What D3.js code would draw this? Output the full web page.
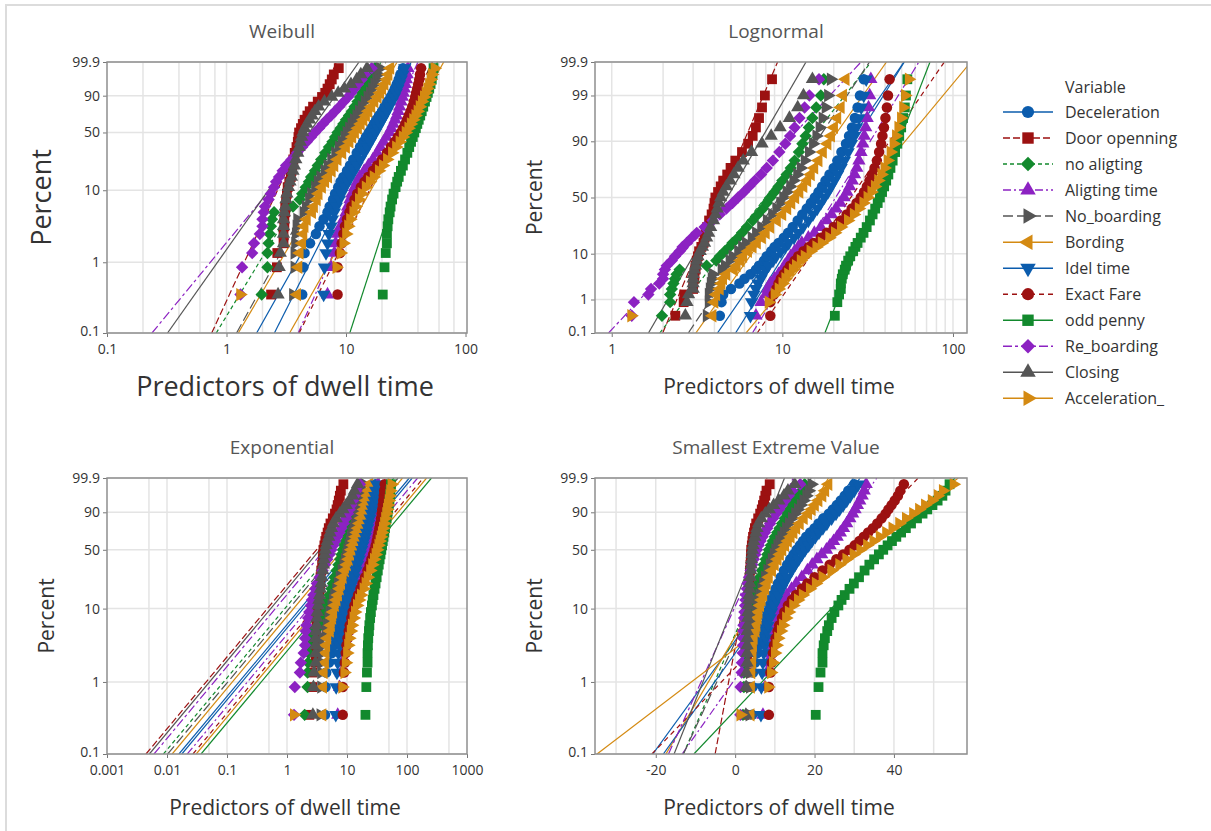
<!DOCTYPE html>
<html>
<head>
<meta charset="utf-8">
<script src="https://d3js.org/d3.v7.min.js"></script>
<style>
body { margin: 0; background: #fff; }
svg { font-family: "Open Sans", "Noto Sans", sans-serif; }
</style>
</head>
<body>
<div id="chart"></div>
<script>
// plotting positions (percent) of the points, shared by every variable
var percents = [0.35, 0.85, 1.35, 1.85, 2.5, 3.2, 4, 5, 6, 7.5, 9, 11, 13, 15, 18, 21, 25, 30, 35, 40,
  45, 50, 55, 60, 65, 70, 75, 80, 85, 89, 92, 94.5, 96.5, 98, 99, 99.65];

// variable names, in legend order
var variables = ["Deceleration", "Door openning", "no aligting", "Aligting time", "No_boarding", "Bording",
  "Idel time", "Exact Fare", "odd penny", "Re_boarding", "Closing", "Acceleration_"];

// sample quantiles (seconds) at the percents above
var deceleration = [4.3, 4.4, 4.5, 5.0, 5.6, 6.0, 6.5, 7.0, 7.3, 7.8, 8.1, 8.6, 9.0, 9.5, 10.2, 10.8, 11.5, 12.3, 13.1, 13.9,
  14.7, 15.5, 16.3, 17.1, 17.9, 18.9, 20.0, 21.0, 22.2, 23.6, 24.6, 25.6, 26.6, 27.6, 28.5, 30.0];
var doorOpenning = [2.36, 2.64, 2.66, 3.0, 3.0, 3.05, 3.05, 3.1, 3.1, 3.15, 3.2, 3.25, 3.35, 3.45, 3.5, 3.55, 3.62, 3.72, 3.85, 3.95,
  4.0, 4.05, 4.2, 4.35, 4.5, 4.75, 4.97, 5.3, 5.8, 6.3, 6.7, 7.0, 7.3, 7.6, 7.9, 8.7];
var noAligting = [1.97, 2.2, 2.2, 2.25, 2.3, 2.35, 2.4, 2.5, 3.6, 4.1, 4.3, 4.6, 4.9, 5.1, 5.5, 5.8, 6.2, 6.7, 7.2, 7.7,
  8.1, 8.5, 9.0, 9.5, 10.0, 10.6, 11.2, 11.8, 12.5, 13.1, 13.7, 14.3, 15.0, 15.8, 16.8, 17.5];
var aligtingTime = [7.0, 7.5, 8.0, 8.2, 8.5, 9.0, 9.5, 10.0, 10.3, 10.8, 11.2, 11.8, 12.4, 13.0, 14.2, 15.4, 16.8, 18.2, 19.4, 20.6,
  21.8, 23.0, 23.9, 24.8, 25.7, 26.5, 27.3, 28.1, 28.9, 29.6, 30.2, 30.8, 31.4, 32.0, 32.5, 33.0];
var noBoarding = [3.6, 3.7, 3.7, 3.75, 3.8, 3.85, 3.9, 4.4, 4.6, 4.9, 5.1, 5.5, 5.8, 6.1, 6.6, 7.0, 7.5, 8.1, 8.7, 9.2,
  9.7, 10.1, 10.6, 11.1, 11.6, 12.2, 12.8, 13.5, 14.3, 15.1, 15.8, 16.5, 17.2, 17.9, 18.5, 19.2];
var bording = [3.9, 4.0, 4.1, 4.3, 4.4, 4.5, 4.7, 5.2, 5.4, 5.7, 5.9, 6.3, 6.7, 7.1, 7.6, 8.0, 8.5, 9.3, 10.0, 10.7,
  11.3, 11.9, 12.6, 13.3, 14.0, 14.7, 15.4, 16.3, 17.3, 18.4, 19.3, 20.1, 21.0, 22.0, 22.7, 23.5];
var idelTime = [6.5, 6.6, 6.8, 7.0, 7.2, 7.5, 7.7, 8.0, 8.3, 8.8, 9.2, 9.8, 10.4, 10.9, 11.7, 12.4, 13.2, 14.2, 15.1, 16.0,
  16.8, 17.6, 18.5, 19.3, 20.2, 21.1, 22.1, 23.1, 24.3, 25.4, 26.3, 27.2, 28.1, 29.0, 30.0, 31.0];
var exactFare = [8.5, 8.5, 8.9, 9.2, 9.5, 9.8, 10.2, 10.7, 11.1, 11.8, 12.4, 13.3, 14.3, 15.3, 16.8, 18.2, 20.0, 22.0, 23.8, 25.5,
  27.2, 28.8, 30.1, 31.3, 32.4, 33.5, 34.7, 35.8, 36.9, 37.9, 38.6, 39.4, 40.2, 41.0, 41.6, 42.5];
var oddPenny = [20.3, 21.0, 21.5, 22.0, 22.0, 22.3, 22.6, 23.2, 23.6, 24.3, 25.0, 26.0, 26.8, 27.6, 28.8, 29.9, 31.2, 32.6, 33.8, 35.0,
  36.2, 37.3, 38.4, 39.5, 40.6, 41.8, 43.0, 44.3, 45.8, 47.2, 48.4, 49.7, 51.0, 52.2, 53.0, 54.0];
var reBoarding = [1.31, 1.35, 1.64, 1.7, 1.9, 2.0, 2.0, 2.05, 2.1, 2.25, 2.35, 2.5, 2.6, 2.75, 2.95, 3.15, 3.5, 3.9, 4.3, 4.7,
  5.1, 5.5, 5.95, 6.4, 6.9, 7.5, 8.1, 8.8, 9.6, 10.4, 11.1, 11.8, 12.6, 13.5, 14.4, 16.4];
var closing = [2.7, 2.76, 2.82, 3.0, 3.0, 3.0, 3.0, 3.05, 3.1, 3.15, 3.2, 3.3, 3.4, 3.5, 3.6, 3.7, 3.8, 3.95, 4.05, 4.15,
  4.25, 4.35, 4.5, 4.7, 4.95, 5.2, 5.5, 5.9, 6.6, 7.6, 8.6, 9.7, 11.0, 12.3, 13.3, 15.0];
var acceleration = [1.3, 8.3, 9.0, 9.5, 10.0, 10.4, 10.8, 11.5, 12.0, 12.8, 13.5, 14.6, 15.8, 17.0, 18.8, 20.3, 22.0, 24.2, 26.2, 28.0,
  29.8, 31.5, 33.2, 34.8, 36.4, 38.0, 39.6, 41.3, 43.0, 44.8, 46.3, 47.8, 49.5, 51.0, 52.3, 55.0];

var values = [deceleration, doorOpenning, noAligting, aligtingTime, noBoarding, bording,
  idelTime, exactFare, oddPenny, reBoarding, closing, acceleration];

// percent ticks on the y axes
var pTicks = [0.1, 1, 10, 50, 90, 99.9];
var pTicksNormal = [0.1, 1, 10, 50, 90, 99, 99.9];

// styles of each variable (Minitab defaults)
var blue = "#0b5cad", red = "#9c1111", green = "#12892d", purple = "#8c22c2", grey = "#555555", orange = "#d48a12";
var colors = [blue, red, green, purple, grey, orange, blue, red, green, purple, grey, orange];
var shapes = ["circle", "square", "diamond", "up", "right", "left", "down", "circle", "square", "diamond", "up", "right"];
var dashes = [null, "7,3", "4,3", "8,3,2,3", "10,4", null, null, "5,4", null, "9,3,3,3", null, null];

var svg = d3.select("#chart").append("svg")
  .attr("width", 1211)
  .attr("height", 831);

svg.append("rect").attr("width", 1211).attr("height", 831).attr("fill", "#fff");
// outer frame of the graph window
svg.append("path").attr("d", "M6,831V5H1211").attr("fill", "none")
  .attr("stroke", "#dcdcdc").attr("stroke-width", 2);

// inverse normal cdf (Acklam)
function qnorm(p) {
  var a = [-39.69683028665376, 220.9460984245205, -275.9285104469687, 138.3577518672690, -30.66479806614716, 2.506628277459239];
  var b = [-54.47609879822406, 161.5858368580409, -155.6989798598866, 66.80131188771972, -13.28068155288572];
  var c = [-0.007784894002430293, -0.3223964580411365, -2.400758277161838, -2.549732539343734, 4.374664141464968, 2.938163982698783];
  var d = [0.007784695709041462, 0.3224671290700398, 2.445134137142996, 3.754408361988120];
  var q, r;
  if (p < 0.02425) {
    q = Math.sqrt(-2 * Math.log(p));
    return (((((c[0]*q+c[1])*q+c[2])*q+c[3])*q+c[4])*q+c[5]) / ((((d[0]*q+d[1])*q+d[2])*q+d[3])*q+1);
  }
  if (p > 1 - 0.02425) {
    q = Math.sqrt(-2 * Math.log(1 - p));
    return -(((((c[0]*q+c[1])*q+c[2])*q+c[3])*q+c[4])*q+c[5]) / ((((d[0]*q+d[1])*q+d[2])*q+d[3])*q+1);
  }
  q = p - 0.5; r = q * q;
  return (((((a[0]*r+a[1])*r+a[2])*r+a[3])*r+a[4])*r+a[5])*q / (((((b[0]*r+b[1])*r+b[2])*r+b[3])*r+b[4])*r+1);
}
// ln(-ln(1-p)) : the weibull / exponential / extreme value probability scale
function gumbel(p) { return Math.log(-Math.log(1 - p)); }

// probability mass each plotted point stands for
var w = percents.map(function(p, i) {
  var lo = i === 0 ? 0 : (percents[i - 1] + p) / 2;
  var hi = i === percents.length - 1 ? 100 : (percents[i + 1] + p) / 2;
  return hi - lo;
});
var W = d3.sum(w);

// maximum likelihood fits, each returns x as a function of the transformed percent
function fitWeibull(xs) {
  var lx = xs.map(Math.log), lmax = d3.max(lx);
  var mlx = d3.sum(lx, function(v, i) { return v * w[i]; }) / W;
  function g(b) {
    var s = 0, s1 = 0;
    lx.forEach(function(v, i) { var e = w[i] * Math.exp(b * (v - lmax)); s += e; s1 += e * v; });
    return s1 / s - 1 / b - mlx;
  }
  var lo = 0.05, hi = 60, b;
  for (var k = 0; k < 80; k++) { b = (lo + hi) / 2; if (g(b) > 0) hi = b; else lo = b; }
  var s = d3.sum(lx, function(v, i) { return w[i] * Math.exp(b * (v - lmax)); }) / W;
  var alpha = Math.exp(lmax + Math.log(s) / b);
  return function(t) { return alpha * Math.exp(t / b); };
}
function fitLognormal(xs) {
  var lx = xs.map(Math.log);
  var mu = d3.sum(lx, function(v, i) { return v * w[i]; }) / W;
  var sd = Math.sqrt(d3.sum(lx, function(v, i) { return w[i] * (v - mu) * (v - mu); }) / W);
  return function(z) { return Math.exp(mu + sd * z); };
}
function fitExponential(xs) {
  var theta = d3.sum(xs, function(v, i) { return v * w[i]; }) / W;
  return function(t) { return theta * Math.exp(t); };
}
function fitSEV(xs) {
  var m = d3.sum(xs, function(v, i) { return v * w[i]; }) / W, xmax = d3.max(xs);
  function h(s) {
    var a = 0, b = 0;
    xs.forEach(function(v, i) { var e = w[i] * Math.exp((v - xmax) / s); a += e; b += e * v; });
    return b / a - m - s;
  }
  var lo = 0.01, hi = 200, s;
  for (var k = 0; k < 80; k++) { s = (lo + hi) / 2; if (h(s) > 0) lo = s; else hi = s; }
  var a = d3.sum(xs, function(v, i) { return w[i] * Math.exp((v - xmax) / s); }) / W;
  var mu = xmax + s * Math.log(a);
  return function(t) { return mu + s * t; };
}

// marker paths
function markerPath(shape, size) {
  if (shape === "circle") return d3.symbol(d3.symbolCircle, size * 0.9)();
  if (shape === "square") return d3.symbol(d3.symbolSquare, size)();
  if (shape === "diamond") return d3.symbol(d3.symbolSquare, size * 0.8)();
  return d3.symbol(d3.symbolTriangle, size * 0.8)();
}
function markerRotate(shape) {
  return { diamond: 45, right: 90, down: 180, left: 270 }[shape] || 0;
}

var panels = [
  { title: "Weibull", left: 107, right: 467, top: 62, bottom: 333, xType: "log", xDomain: [0.1, 102.9],
    xTicks: [0.1, 1, 10, 100], xGrid: [0.2, 0.4, 0.6, 0.8, 1, 2, 4, 6, 8, 10, 20, 40, 60, 80],
    yf: gumbel, ticks: pTicks, fit: fitWeibull, labelSize: 27, ylabelX: 42 },
  { title: "Lognormal", left: 595, right: 967, top: 62, bottom: 333, xType: "log", xDomain: [0.798, 120.8],
    xTicks: [1, 10, 100], xGrid: [1, 2, 3, 4, 5, 6, 7, 8, 9, 10, 20, 30, 40, 50, 60, 70, 80, 90, 100],
    yf: qnorm, ticks: pTicksNormal, fit: fitLognormal, labelSize: 21, ylabelX: 535 },
  { title: "Exponential", left: 107, right: 467, top: 478, bottom: 754, xType: "log", xDomain: [0.001, 1000],
    xTicks: [0.001, 0.01, 0.1, 1, 10, 100, 1000], xGrid: [0.005, 0.01, 0.05, 0.1, 0.5, 1, 5, 10, 50, 100, 500],
    yf: gumbel, ticks: pTicks, fit: fitExponential, labelSize: 21, ylabelX: 47 },
  { title: "Smallest Extreme Value", left: 595, right: 967, top: 478, bottom: 754, xType: "linear", xDomain: [-35.3, 58.4],
    xTicks: [-20, 0, 20, 40], xGrid: [-30, -20, -10, 0, 10, 20, 30, 40, 50],
    yf: gumbel, ticks: pTicks, fit: fitSEV, labelSize: 21, ylabelX: 535 }
];

panels.forEach(function(cfg, pi) {
  var x = (cfg.xType === "log" ? d3.scaleLog() : d3.scaleLinear())
    .domain(cfg.xDomain)
    .range([cfg.left, cfg.right]);
  var y = d3.scaleLinear()
    .domain([cfg.yf(0.001), cfg.yf(0.999)])
    .range([cfg.bottom, cfg.top]);
  var g = svg.append("g");

  // grid
  g.selectAll(".vgrid").data(cfg.xGrid).enter().append("line")
    .attr("x1", function(d) { return x(d); }).attr("x2", function(d) { return x(d); })
    .attr("y1", cfg.top).attr("y2", cfg.bottom)
    .attr("stroke", "#e4e4e4").attr("stroke-width", 1.5);
  g.selectAll(".hgrid").data(cfg.ticks).enter().append("line")
    .attr("x1", cfg.left).attr("x2", cfg.right)
    .attr("y1", function(d) { return y(cfg.yf(d / 100)); }).attr("y2", function(d) { return y(cfg.yf(d / 100)); })
    .attr("stroke", "#e4e4e4").attr("stroke-width", 1.5);

  // axes
  var xAxis = g.append("g")
    .attr("transform", "translate(0," + cfg.bottom + ")")
    .call(d3.axisBottom(x).tickValues(cfg.xTicks).tickFormat(function(d) { return d; }).tickSize(4).tickPadding(7));
  var yAxis = g.append("g")
    .attr("transform", "translate(" + cfg.left + ",0)")
    .call(d3.axisLeft(y).tickValues(cfg.ticks.map(function(p) { return cfg.yf(p / 100); }))
      .tickFormat(function(d, i) { return cfg.ticks[i]; }).tickSize(4).tickPadding(3));
  [xAxis, yAxis].forEach(function(a) {
    a.select(".domain").remove();
    a.selectAll("line").attr("stroke", "#777");
    a.selectAll("text").attr("font-size", 14).attr("fill", "#333").attr("font-family", "Open Sans");
  });
  // keep the lowest percent label clear of the first x label
  yAxis.selectAll(".tick text").filter(function(d, i) { return i === 0; }).attr("dy", "0.2em");

  var clipId = "clip" + pi;
  svg.append("clipPath").attr("id", clipId).append("rect")
    .attr("x", cfg.left).attr("y", cfg.top)
    .attr("width", cfg.right - cfg.left).attr("height", cfg.bottom - cfg.top);
  var plot = g.append("g").attr("clip-path", "url(#" + clipId + ")");

  // fitted lines, from 0.1 to 99.9 percent
  values.forEach(function(xs, si) {
    var f = cfg.fit(xs);
    var t0 = cfg.yf(0.001), t1 = cfg.yf(0.999);
    var xa = f(t0), xb = f(t1);
    if (cfg.xType === "log") { xa = Math.max(xa, 1e-9); }
    plot.append("line")
      .attr("x1", x(xa)).attr("y1", y(t0))
      .attr("x2", x(xb)).attr("y2", y(t1))
      .attr("stroke", colors[si])
      .attr("stroke-width", 1.2)
      .attr("stroke-dasharray", dashes[si]);
  });

  // points
  values.forEach(function(xs, si) {
    plot.selectAll(".pt" + si)
      .data(xs)
      .enter()
      .append("path")
      .attr("d", markerPath(shapes[si], 96))
      .attr("transform", function(d, i) {
        return "translate(" + x(d) + "," + y(cfg.yf(percents[i] / 100)) + ") rotate(" + markerRotate(shapes[si]) + ")";
      })
      .attr("fill", colors[si]);
  });

  // frame
  g.append("rect")
    .attr("x", cfg.left).attr("y", cfg.top)
    .attr("width", cfg.right - cfg.left).attr("height", cfg.bottom - cfg.top)
    .attr("fill", "none").attr("stroke", "#8f8f8f").attr("stroke-width", 1.5);

  // titles and labels
  g.append("text")
    .attr("x", (cfg.left + cfg.right) / 2 - 5)
    .attr("y", cfg.top - 24)
    .attr("text-anchor", "middle")
    .attr("font-size", 19)
    .attr("fill", "#555")
    .text(cfg.title);
  g.append("text")
    .attr("x", (cfg.left + cfg.right) / 2 - 2)
    .attr("y", cfg.bottom + (cfg.labelSize > 22 ? 63 : 61))
    .attr("text-anchor", "middle")
    .attr("font-size", cfg.labelSize)
    .attr("fill", "#333")
    .text("Predictors of dwell time");
  g.append("text")
    .attr("transform", "translate(" + cfg.ylabelX + "," + (cfg.top + cfg.bottom) / 2 + ") rotate(-90)")
    .attr("text-anchor", "middle")
    .attr("dy", "0.35em")
    .attr("font-size", cfg.labelSize)
    .attr("fill", "#333")
    .text("Percent");
});

// legend
var legend = svg.append("g");
legend.append("text")
  .attr("x", 1065).attr("y", 87).attr("dy", "0.35em")
  .attr("font-size", 16).attr("fill", "#333")
  .text("Variable");
variables.forEach(function(name, i) {
  var ly = 112 + i * 26.03;
  legend.append("line")
    .attr("x1", 1003).attr("x2", 1053).attr("y1", ly).attr("y2", ly)
    .attr("stroke", colors[i]).attr("stroke-width", 1.5)
    .attr("stroke-dasharray", dashes[i]);
  legend.append("path")
    .attr("d", markerPath(shapes[i], 130))
    .attr("transform", "translate(1028," + ly + ") rotate(" + markerRotate(shapes[i]) + ")")
    .attr("fill", colors[i]);
  legend.append("text")
    .attr("x", 1065).attr("y", ly).attr("dy", "0.35em")
    .attr("font-size", 16).attr("fill", "#333")
    .text(name);
});
</script>
</body>
</html>
